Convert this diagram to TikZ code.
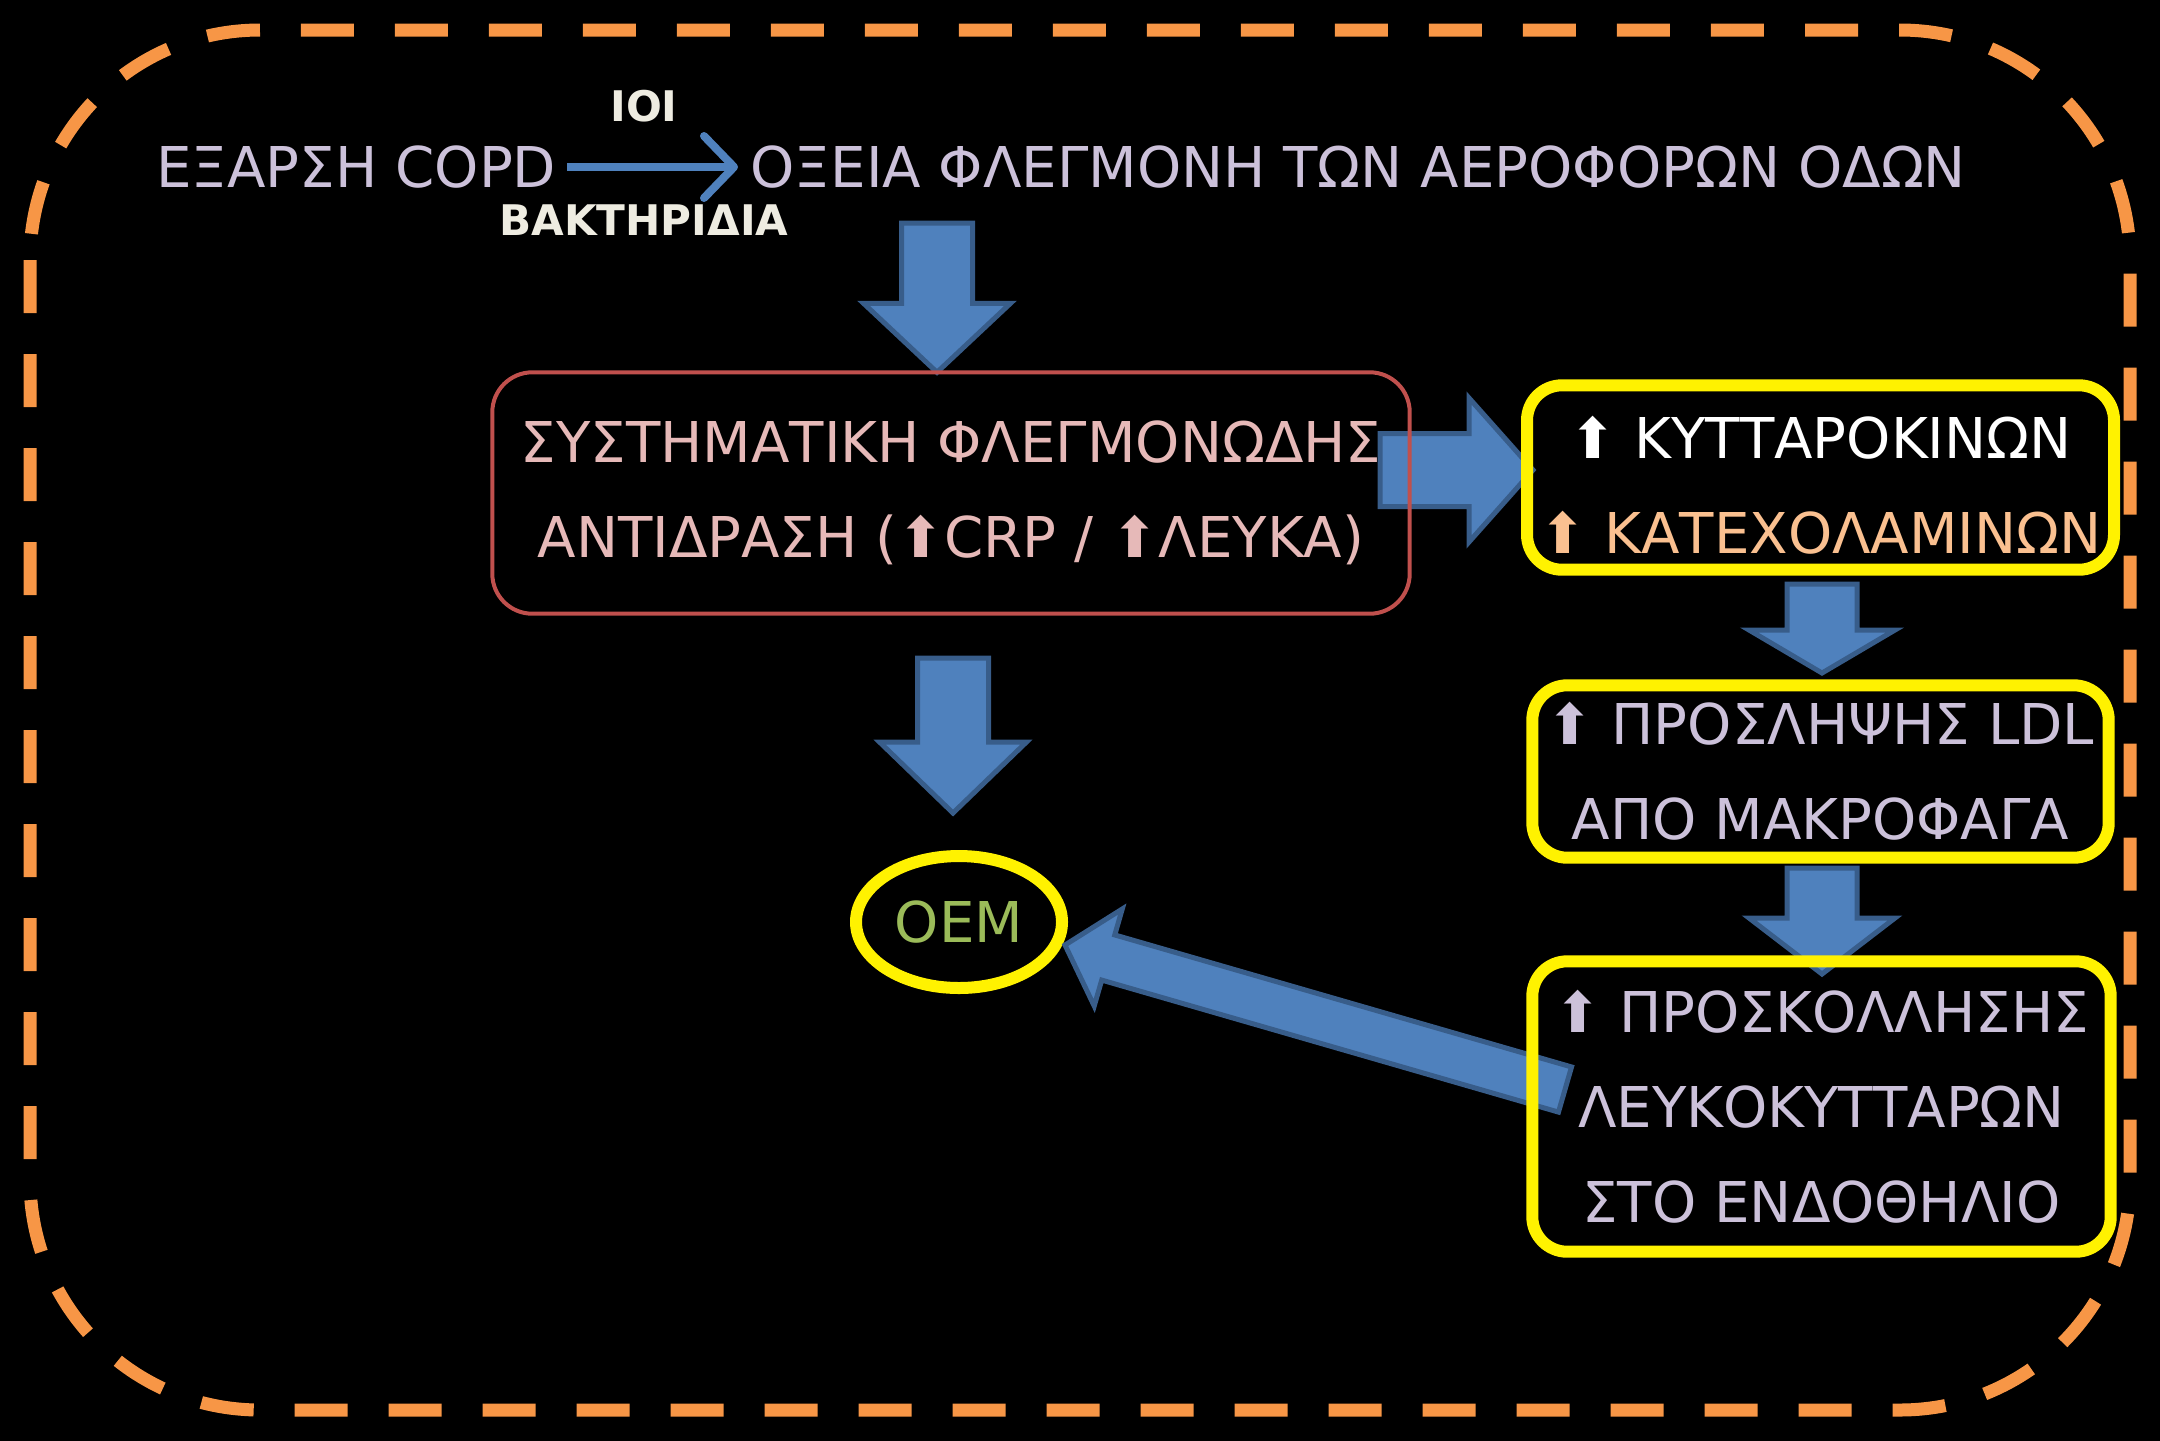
\documentclass[tikz,border=0pt]{standalone}
\usepackage{fontspec}
\setmainfont{DejaVu Sans}
\usetikzlibrary{shapes,calc,arrows.meta}

\definecolor{lilac}{HTML}{CCC1DA}
\definecolor{cream}{HTML}{EEECE1}
\definecolor{rose}{HTML}{E6B9B8}
\definecolor{peach}{HTML}{FAC090}
\definecolor{oemgreen}{HTML}{9BBB59}
\definecolor{arrowblue}{HTML}{4F81BD}
\definecolor{arrowedge}{HTML}{385D8A}
\definecolor{boxred}{HTML}{C0504D}
\definecolor{frameorange}{HTML}{F79646}

\newcommand{\blockarrow}[5]{%
  \coordinate (ba) at ($(#2)!#5!(#1)$);
  \draw[blk] ($(#1)!#3!90:(#2)$) -- ($(ba)!#3!90:(#2)$) -- ($(ba)!#4!90:(#2)$) -- (#2)
    -- ($(ba)!#4!-90:(#2)$) -- ($(ba)!#3!-90:(#2)$) -- ($(#1)!#3!-90:(#2)$) -- cycle;
}

\begin{document}
\begin{tikzpicture}[>={Straight Barb[length=0.3cm,width=0.62cm,round]}]
\tikzstyle{txt}=[font=\fontsize{16}{27}\selectfont,align=center]
\tikzstyle{small}=[font=\fontsize{12}{14}\selectfont\bfseries,text=cream,inner sep=0pt]
\tikzstyle{blk}=[fill=arrowblue,draw=arrowedge,line width=0.05cm,line join=miter]
\tikzstyle{redframe}=[draw=boxred,line width=0.04cm,rounded corners=0.4cm]
\tikzstyle{yelframe}=[draw=yellow,line width=0.12cm,rounded corners=0.35cm]

\useasboundingbox (0,0) rectangle (21.6,-14.4);
\fill[black] (-0.2,0.2) rectangle (21.8,-14.6);
\draw[frameorange,line width=0.13cm,dash pattern=on 0.53cm off 0.41cm,rounded corners=2.3cm]
    (0.3,-0.3) rectangle (21.3,-14.1);

\node[txt,text=lilac,anchor=east,inner sep=0.1cm] (copd) at (5.67,-1.67) {ΕΞΑΡΣΗ COPD};
\node[txt,text=lilac,anchor=west,inner sep=0.12cm] (oxeia) at (7.38,-1.67)
    {ΟΞΕΙΑ ΦΛΕΓΜΟΝΗ ΤΩΝ ΑΕΡΟΦΟΡΩΝ ΟΔΩΝ};
\draw[->,arrowblue,line width=0.08cm] (copd) --
    node[small,pos=0.45,above=0.41cm] (ioi) {ΙΟΙ}
    node[small,pos=0.45,below=0.34cm] (bakt) {ΒΑΚΤΗΡΙΔΙΑ} (oxeia);

\node[txt,text=rose,minimum width=9.16cm,minimum height=2.4cm] (sys) at (9.51,-4.93)
    {ΣΥΣΤΗΜΑΤΙΚΗ ΦΛΕΓΜΟΝΩΔΗΣ\\ ΑΝΤΙΔΡΑΣΗ (⬆CRP / ⬆ΛΕΥΚΑ)};
\node[txt,text=white,minimum width=5.75cm,minimum height=1.83cm] (cyto) at (18.205,-4.85)
    {⬆ ΚΥΤΤΑΡΟΚΙΝΩΝ\\ \textcolor{peach}{⬆ ΚΑΤΕΧΟΛΑΜΙΝΩΝ}};
\node[txt,text=lilac,minimum width=5.75cm,minimum height=1.71cm] (ldl) at (18.205,-7.715)
    {⬆ ΠΡΟΣΛΗΨΗΣ LDL\\ ΑΠΟ ΜΑΚΡΟΦΑΓΑ};
\node[txt,text=lilac,minimum width=5.77cm,minimum height=2.89cm] (adh) at (18.215,-11.065)
    {⬆ ΠΡΟΣΚΟΛΛΗΣΗΣ\\ ΛΕΥΚΟΚΥΤΤΑΡΩΝ\\ ΣΤΟ ΕΝΔΟΘΗΛΙΟ};
\node[txt,text=oemgreen,ellipse,draw=yellow,line width=0.12cm,minimum width=2.06cm,
    minimum height=1.32cm,inner sep=0pt] (oem) at (9.59,-9.22) {ΟΕΜ};

\coordinate (a1s) at (9.37,-2.23);
\coordinate (a1e) at (a1s |- sys.north);
\coordinate (a2s) at (13.80,-4.70);
\coordinate (a2e) at (15.33,-4.70);
\coordinate (a3s) at (18.22,-5.84);
\coordinate (a3e) at (18.22,-6.73);
\coordinate (a4s) at (18.22,-8.68);
\coordinate (a4e) at (18.22,-9.74);
\coordinate (a5s) at (9.53,-6.58);
\coordinate (a5e) at (9.53,-8.13);
\coordinate (a6s) at (15.65,-10.895);
\coordinate (a6e) at (10.65,-9.45);
\blockarrow{a1s}{a1e}{0.355cm}{0.735cm}{0.69cm}
\blockarrow{a2s}{a2e}{0.365cm}{0.72cm}{0.64cm}
\blockarrow{a3s}{a3e}{0.35cm}{0.73cm}{0.43cm}
\blockarrow{a4s}{a4e}{0.35cm}{0.73cm}{0.56cm}
\blockarrow{a5s}{a5e}{0.355cm}{0.735cm}{0.71cm}
\blockarrow{a6s}{a6e}{0.235cm}{0.505cm}{0.45cm}

\draw[redframe] (sys.south west) rectangle (sys.north east);
\draw[yelframe] ($(cyto.south west)+(0,0.075)$) rectangle ($(cyto.north east)+(0,0.075)$);
\draw[yelframe] (ldl.south west) rectangle (ldl.north east);
\draw[yelframe] (adh.south west) rectangle (adh.north east);
\end{tikzpicture}
\end{document}
